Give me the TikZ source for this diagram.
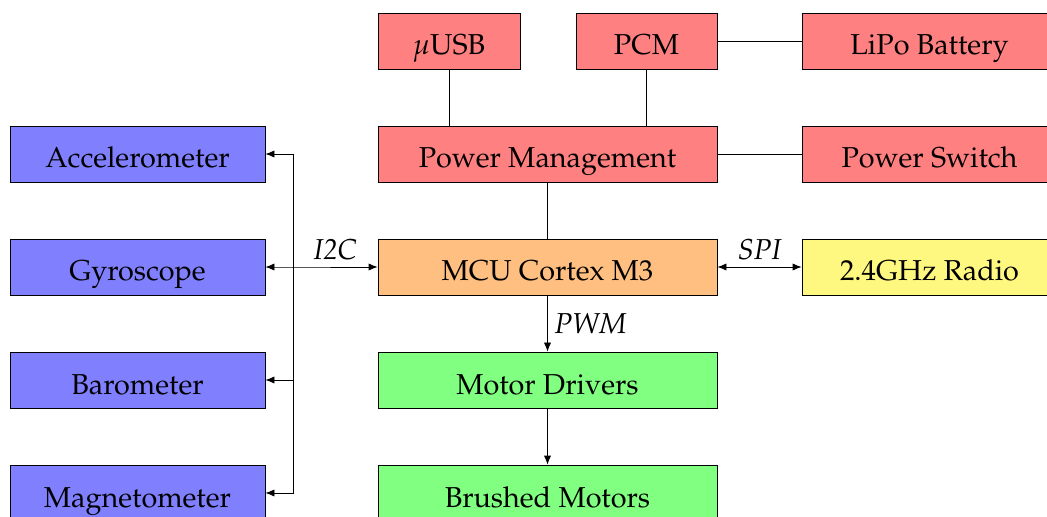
\documentclass[tikz,border=0pt]{standalone}
\usepackage[T1]{fontenc}
\usepackage{mathpazo}
\usepackage{tikz}
\usetikzlibrary{arrows.meta,positioning}
\tikzset{
  >={Latex[length=4.5pt,width=3.6pt]},
  blk/.style={draw=black,minimum height=28pt,inner sep=0pt,text height=17pt,text depth=3pt,font=\Large,align=center},
  pwr/.style={blk,fill=red!50},
  sens/.style={blk,fill=blue!50,minimum width=127.5pt},
  mcu/.style={blk,fill=orange!50,minimum width=169.5pt},
  rad/.style={blk,fill=yellow!50,minimum width=127.5pt},
  mot/.style={blk,fill=green!50,minimum width=169.5pt},
  lab/.style={font=\Large\itshape},
  arr/.style={->,draw=black},
  barr/.style={<->,draw=black},
}
\begin{document}
\begin{tikzpicture}[x=0.5pt,y=-0.5pt]
\useasboundingbox (0,0) rectangle (1047,517);
% power
\node[pwr,minimum width=71pt] (usb) at (449,41) {$\mu$USB};
\node[pwr,minimum width=70.5pt] (pcm) at (646.5,41) {PCM};
\node[pwr,minimum width=127.5pt] (lipo) at (929.5,41) {LiPo Battery};
\node[pwr,minimum width=169.5pt] (pm) at (547.5,154) {Power Management};
\node[pwr,minimum width=127.5pt] (psw) at (929.5,154) {Power Switch};
% sensors
\node[sens] (acc) at (137.5,154) {Accelerometer};
\node[sens] (gyro) at (137.5,267) {Gyroscope};
\node[sens] (baro) at (137.5,380) {Barometer};
\node[sens] (mag) at (137.5,493) {Magnetometer};
% core
\node[mcu] (cpu) at (547.5,267) {MCU Cortex M3};
\node[rad] (radio) at (929.5,267) {2.4GHz Radio};
\node[mot] (drv) at (547.5,380) {Motor Drivers};
\node[mot] (bm) at (547.5,493) {Brushed Motors};
\coordinate (bus) at (293,267);
\draw (usb.south) -- (usb.south |- pm.north);
\draw (pcm.south) -- (pcm.south |- pm.north);
\draw (pcm) -- (lipo); \draw (pm) -- (psw); \draw (pm) -- (cpu);
\draw[barr] (gyro.east) -- (bus) -- node[above,lab]{I2C} (cpu.west);
\draw[arr] (bus) |- (acc.east); \draw[arr] (bus) |- (baro.east); \draw[arr] (bus) |- (mag.east);
\draw[barr] (cpu) -- node[above,lab]{SPI} (radio);
\draw[arr] (cpu) -- node[right,lab]{PWM} (drv);
\draw[arr] (drv) -- (bm);
\end{tikzpicture}
\end{document}
